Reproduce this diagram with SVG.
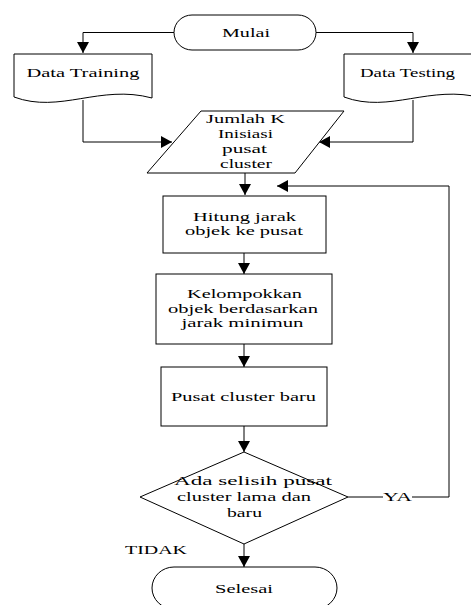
<svg xmlns="http://www.w3.org/2000/svg" width="471" height="605" viewBox="0 0 471 605">
  <style>
    .shape { fill: #fff; stroke: #000; stroke-width: 1; }
    .line { fill: none; stroke: #000; stroke-width: 1; }
    text { font-family: "Liberation Serif", "Times New Roman", serif; font-size: 12.5px; fill: #000; text-anchor: middle; }
  </style>
  <defs>
    <marker id="arrow" markerUnits="userSpaceOnUse" markerWidth="12" markerHeight="12" refX="11" refY="6" orient="auto">
      <path d="M0,0 L11,6 L0,12 z" fill="#000"/>
    </marker>
  </defs>
  <rect width="471" height="605" fill="#fff"/>

  <!-- connectors -->
  <g id="connectors">
    <path class="line" d="M174,32.5 H83 V53" marker-end="url(#arrow)"/>
    <path class="line" d="M316,32.5 H413 V53" marker-end="url(#arrow)"/>
    <path class="line" d="M83,100 V142 H172" marker-end="url(#arrow)"/>
    <path class="line" d="M413,100 V142 H319" marker-end="url(#arrow)"/>
    <path class="line" d="M245,173 V195" marker-end="url(#arrow)"/>
    <path class="line" d="M244,253 V274" marker-end="url(#arrow)"/>
    <path class="line" d="M244,344 V367" marker-end="url(#arrow)"/>
    <path class="line" d="M244,426 V452" marker-end="url(#arrow)"/>
    <path class="line" d="M244,544 V567" marker-end="url(#arrow)"/>
    <path class="line" d="M348,497 H383"/>
    <path class="line" d="M412,497 H449 V186 H277" marker-end="url(#arrow)"/>
    <text x="397.5" y="501" textLength="29" lengthAdjust="spacingAndGlyphs">YA</text>
    <text x="156" y="554" textLength="62" lengthAdjust="spacingAndGlyphs">TIDAK</text>
  </g>

  <!-- start -->
  <g id="mulai">
    <rect class="shape" x="174" y="15" width="142" height="35" rx="18" ry="17.5"/>
    <text x="246" y="37" textLength="48" lengthAdjust="spacingAndGlyphs">Mulai</text>
  </g>

  <!-- input documents -->
  <g id="data-training">
    <path class="shape" d="M14,54 H152 V98 C100,84 60,114 14,97 Z"/>
    <text x="83" y="77" textLength="113" lengthAdjust="spacingAndGlyphs">Data Training</text>
  </g>
  <g id="data-testing">
    <path class="shape" d="M344,54 H482 V98 C430,84 390,114 344,97 Z"/>
    <text x="407.5" y="77" textLength="95" lengthAdjust="spacingAndGlyphs">Data Testing</text>
  </g>

  <!-- k and initial centroids -->
  <g id="inisiasi">
    <path class="shape" d="M201,111 H344 L295,173 H147 Z"/>
    <text x="245.5" y="123" textLength="79" lengthAdjust="spacingAndGlyphs">Jumlah K</text>
    <text x="245.5" y="138" textLength="55" lengthAdjust="spacingAndGlyphs">Inisiasi</text>
    <text x="244.5" y="153" textLength="45" lengthAdjust="spacingAndGlyphs">pusat</text>
    <text x="246" y="168" textLength="52" lengthAdjust="spacingAndGlyphs">cluster</text>
  </g>

  <!-- process steps -->
  <g id="hitung-jarak">
    <rect class="shape" x="163" y="196" width="163" height="57"/>
    <text x="244.5" y="221" textLength="103" lengthAdjust="spacingAndGlyphs">Hitung jarak</text>
    <text x="244" y="235" textLength="118" lengthAdjust="spacingAndGlyphs">objek ke pusat</text>
  </g>
  <g id="kelompokkan">
    <rect class="shape" x="156" y="274" width="176" height="70"/>
    <text x="244.5" y="298" textLength="115" lengthAdjust="spacingAndGlyphs">Kelompokkan</text>
    <text x="243" y="313" textLength="150" lengthAdjust="spacingAndGlyphs">objek berdasarkan</text>
    <text x="242.5" y="327" textLength="122" lengthAdjust="spacingAndGlyphs">jarak minimun</text>
  </g>
  <g id="pusat-baru">
    <rect class="shape" x="161" y="367" width="166" height="59"/>
    <text x="243.5" y="401" textLength="145" lengthAdjust="spacingAndGlyphs">Pusat cluster baru</text>
  </g>

  <!-- decision -->
  <g id="cek-selisih">
    <path class="shape" d="M244,452 L348,497 L244,544 L140,497 Z"/>
    <text x="253" y="485" textLength="158" lengthAdjust="spacingAndGlyphs">Ada selisih pusat</text>
    <text x="244" y="501" textLength="134" lengthAdjust="spacingAndGlyphs">cluster lama dan</text>
    <text x="244.5" y="517" textLength="35" lengthAdjust="spacingAndGlyphs">baru</text>
  </g>

  <!-- end -->
  <g id="selesai">
    <rect class="shape" x="152" y="567" width="185" height="42" rx="22" ry="21"/>
    <text x="244" y="593" textLength="58" lengthAdjust="spacingAndGlyphs">Selesai</text>
  </g>
</svg>
